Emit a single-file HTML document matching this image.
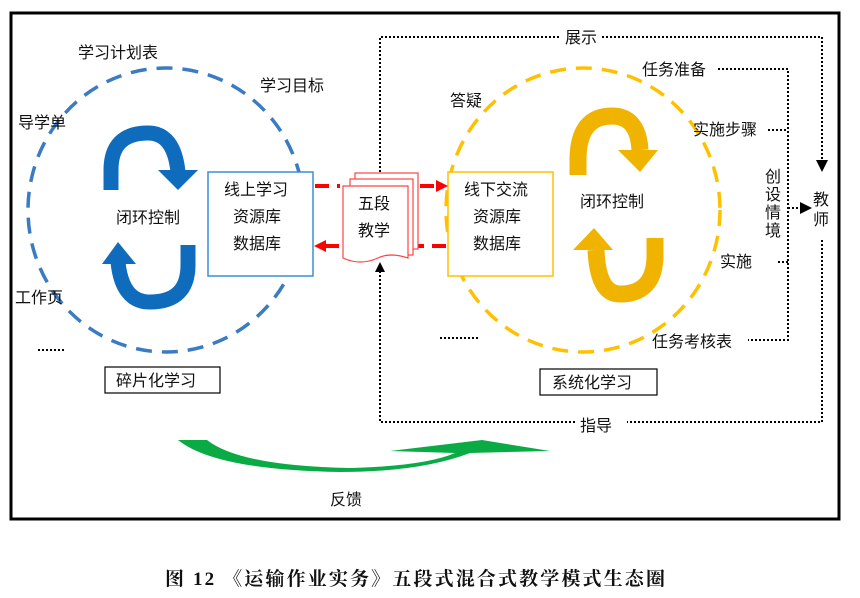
<!DOCTYPE html>
<html><head><meta charset="utf-8"><style>
html,body{margin:0;padding:0;background:#fff}
svg text{font-family:"Liberation Sans","Noto Sans CJK SC",sans-serif;font-size:16px;fill:#111}
</style></head><body>
<svg width="860" height="593" viewBox="0 0 860 593" xmlns="http://www.w3.org/2000/svg">
<rect x="11" y="13" width="828" height="506" fill="none" stroke="#000" stroke-width="3"/>
<ellipse cx="166" cy="210" rx="138" ry="142" fill="none" stroke="#3a7cc4" stroke-width="3.5" stroke-dasharray="16 10"/>
<ellipse cx="583" cy="210" rx="137" ry="142" fill="none" stroke="#ffc000" stroke-width="3.5" stroke-dasharray="16 10"/>
<g fill="none" stroke="#000" stroke-width="2" stroke-dasharray="2 2">
<path d="M380,172 V37 H560"/><path d="M602,37 H822 V160"/>
<path d="M718,69 H788 V340 H748"/>
<path d="M768,130 H788"/><path d="M778,262 H788"/>
<path d="M788,208 H800"/>
<path d="M822,240 V422 H627"/><path d="M575,422 H380 V270"/>
<path d="M440,338 H478"/><path d="M38,350 H65"/>
</g>
<polygon points="816,160 828,160 822,172" fill="#000"/>
<polygon points="800,202 812,208 800,214" fill="#000"/>
<polygon points="375,272 385,272 380,262" fill="#000"/>
<path d="M111,190 V170 Q111,133 148,133 Q174,133 178,172" fill="none" stroke="#0f6cbd" stroke-width="15"/>
<polygon points="158,170 198,170 178,190" fill="#0f6cbd"/>
<path d="M188,245 V265 Q188,302 150,302 Q122,302 118,262" fill="none" stroke="#0f6cbd" stroke-width="15"/>
<polygon points="102,264 136,264 118,242" fill="#0f6cbd"/>
<path d="M578,175 V160 Q578,116 612,116 Q638,116 640,150" fill="none" stroke="#f0b400" stroke-width="17"/>
<polygon points="618,150 658,150 640,172" fill="#f0b400"/>
<path d="M655,238 V255 Q655,294 620,294 Q598,294 596,250" fill="none" stroke="#f0b400" stroke-width="17"/>
<polygon points="573,250 613,250 594,228" fill="#f0b400"/>
<rect x="208" y="172" width="105" height="104" fill="#fff" stroke="#3a8fd6" stroke-width="1.5"/>
<rect x="448" y="172" width="105" height="104" fill="#fff" stroke="#ffc000" stroke-width="1.5"/>
<g stroke="#f00" stroke-width="4" stroke-dasharray="14 8" fill="none">
<path d="M315,186 H340"/><path d="M420,186 H440"/>
<path d="M325,246 H345"/><path d="M410,246 H448"/>
</g>
<polygon points="436,180 448,186 436,192" fill="#f00"/>
<polygon points="326,240 314,246 326,252" fill="#f00"/>
<g fill="#fff" stroke="#f44" stroke-width="1.2">
<rect x="355" y="173" width="63" height="76"/>
<rect x="350" y="179" width="63" height="76"/>
<path d="M343,186 H408 V258 Q390,252 378,258 Q360,266 343,258 Z"/>
</g>
<text x="78" y="58">学习计划表</text><text x="260" y="91">学习目标</text>
<text x="18" y="128">导学单</text><text x="15" y="303">工作页</text>
<text x="116" y="223">闭环控制</text>
<text x="224" y="195">线上学习</text><text x="233" y="222">资源库</text><text x="233" y="249">数据库</text>
<text x="358" y="209">五段</text><text x="358" y="236">教学</text>
<text x="464" y="195">线下交流</text><text x="473" y="222">资源库</text><text x="473" y="249">数据库</text>
<text x="450" y="106">答疑</text><text x="580" y="207">闭环控制</text>
<text x="565" y="43">展示</text><text x="642" y="75">任务准备</text>
<text x="693" y="135">实施步骤</text><text x="720" y="267">实施</text>
<text x="652" y="347">任务考核表</text><text x="580" y="431">指导</text>
<g style="font-size:16px;fill:#666"><text x="765" y="182">创</text><text x="765" y="200">设</text><text x="765" y="218">情</text><text x="765" y="236">境</text></g>
<text x="813" y="205">教</text><text x="813" y="225">师</text>
<rect x="105" y="367" width="115" height="26" fill="#fff" stroke="#000" stroke-width="1.2"/>
<text x="116" y="386">碎片化学习</text>
<rect x="540" y="369" width="117" height="26" fill="#fff" stroke="#000" stroke-width="1.2"/>
<text x="552" y="388">系统化学习</text>
<path d="M178,440 L207,440 Q240,466 350,468 Q425,466 455,453 L390,451 L482,440 L550,451 L470,453 Q420,472 340,472 Q215,470 178,440 Z" fill="#0aab45"/>
<text x="330" y="505">反馈</text>
<text x="165" y="585" textLength="500" lengthAdjust="spacing" style="font-family:'Liberation Serif','Noto Serif CJK SC',serif;font-weight:bold;font-size:19px">图 12 《运输作业实务》五段式混合式教学模式生态圈</text>
</svg>
</body></html>
